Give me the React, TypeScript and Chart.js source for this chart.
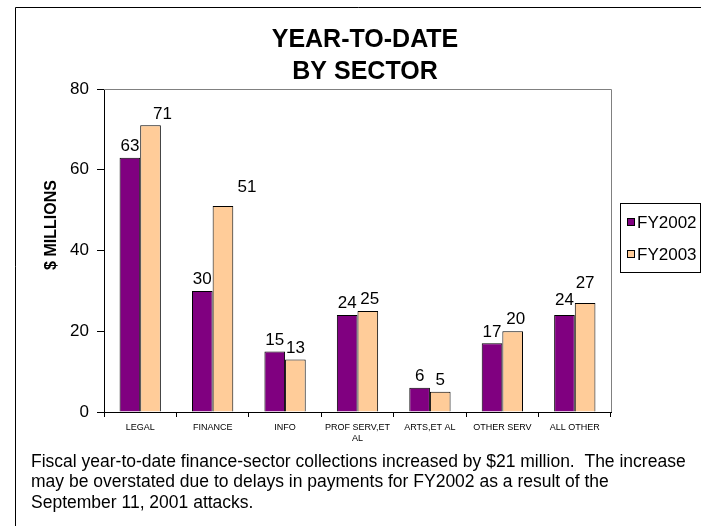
import React, { useEffect, useRef } from 'react';
import { Chart, registerables } from 'chart.js';

Chart.register(...registerables);

const categories = ['LEGAL', 'FINANCE', 'INFO', 'PROF SERV,ET AL', 'ARTS,ET AL', 'OTHER SERV', 'ALL OTHER'];
const fy2002 = [63, 30, 15, 24, 6, 17, 24];
const fy2003 = [71, 51, 13, 25, 5, 20, 27];
const seriesNames = ['FY2002', 'FY2003'];
const seriesColors = ['#800080', '#FFCC99'];
const yMin = 0;
const yMax = 80;
const yStep = 20;
const titleLines = ['YEAR-TO-DATE', 'BY SECTOR'];
const yAxisTitle = '$ MILLIONS';
const captionLines = [
  'Fiscal year-to-date finance-sector collections increased by $21 million.  The increase',
  'may be overstated due to delays in payments for FY2002 as a result of the',
  'September 11, 2001 attacks.',
];

// small manual label nudges (style only, in px) seen in the original: [dx, dy] per series per category
const labelNudges = [
  [[0, 0], [0, 0], [0, 0], [0, 0], [0, 0], [0, 0], [0, -3]],
  [[12, 0], [24, -7], [0, 0], [2, 0], [0, 0], [3, 0], [0, -8]],
];

const FONT = '"Liberation Sans", Arial, Helvetica, sans-serif';
const W = 701;
const H = 526;

const decorPlugin = {
  id: 'decor',
  afterDatasetsDraw(chart: any) {
    const ctx = chart.ctx;
    ctx.save();
    ctx.fillStyle = '#000';
    ctx.font = `17px ${FONT}`;
    ctx.textAlign = 'center';
    ctx.textBaseline = 'bottom';
    chart.data.datasets.forEach((ds: any, di: number) => {
      const meta = chart.getDatasetMeta(di);
      meta.data.forEach((bar: any, i: number) => {
        const n = labelNudges[di][i];
        ctx.fillText(String(ds.data[i]), bar.x + n[0], bar.y - 3 + n[1]);
      });
    });
    ctx.restore();
  },
  afterDraw(chart: any) {
    const ctx = chart.ctx;
    const ca = chart.chartArea;
    ctx.save();
    // plot area top/right border (gray)
    ctx.strokeStyle = '#808080';
    ctx.lineWidth = 1;
    ctx.beginPath();
    ctx.moveTo(ca.left, Math.round(ca.top) + 0.5);
    ctx.lineTo(Math.round(ca.right) + 0.5, Math.round(ca.top) + 0.5);
    ctx.lineTo(Math.round(ca.right) + 0.5, ca.bottom);
    ctx.stroke();

    // outer frame
    ctx.strokeStyle = '#000';
    ctx.beginPath();
    ctx.moveTo(15.5, H);
    ctx.lineTo(15.5, 7.5);
    ctx.lineTo(W, 7.5);
    ctx.stroke();

    // title
    ctx.fillStyle = '#000';
    ctx.font = `bold 25px ${FONT}`;
    ctx.textAlign = 'center';
    ctx.textBaseline = 'alphabetic';
    titleLines.forEach((t, i) => ctx.fillText(t, 365, 47 + i * 32));

    // y axis title
    ctx.save();
    ctx.translate(52, 225);
    ctx.rotate(-Math.PI / 2);
    ctx.font = `bold 16px ${FONT}`;
    ctx.textBaseline = 'middle';
    ctx.textAlign = 'center';
    ctx.fillText(yAxisTitle, 0, 0);
    ctx.restore();

    // legend
    const lx = 620, ly = 203, lw = 80, lh = 69;
    ctx.strokeStyle = '#000';
    ctx.strokeRect(lx + 0.5, ly + 0.5, lw, lh);
    ctx.font = `17px ${FONT}`;
    ctx.textAlign = 'left';
    ctx.textBaseline = 'middle';
    seriesNames.forEach((name, i) => {
      const cy = 222 + i * 32;
      ctx.fillStyle = seriesColors[i];
      ctx.fillRect(627, cy - 4, 8, 8);
      ctx.strokeStyle = '#000';
      ctx.strokeRect(627.5, cy - 3.5, 7, 7);
      ctx.fillStyle = '#000';
      ctx.fillText(name, 637, cy + 1);
    });

    // caption
    ctx.font = `17.5px ${FONT}`;
    ctx.textAlign = 'left';
    ctx.textBaseline = 'middle';
    captionLines.forEach((t, i) => ctx.fillText(t, 31, 462 + i * 20.5));
    ctx.restore();
  },
};

export default function App() {
  const ref = useRef<HTMLCanvasElement | null>(null);
  useEffect(() => {
    document.body.style.margin = '0';
    const canvas = ref.current;
    if (!canvas) return;
    const chart = new Chart(canvas, {
      type: 'bar',
      data: {
        labels: categories,
        datasets: [
          { label: seriesNames[0], data: fy2002, backgroundColor: seriesColors[0], borderColor: '#000', borderWidth: 1 },
          { label: seriesNames[1], data: fy2003, backgroundColor: seriesColors[1], borderColor: '#000', borderWidth: 1 },
        ],
      },
      options: {
        animation: false,
        responsive: false,
        maintainAspectRatio: false,
        devicePixelRatio: 1,
        layout: { padding: { left: 0, top: 89, right: 90, bottom: 84 } },
        datasets: { bar: { categoryPercentage: 0.57, barPercentage: 1 } },
        plugins: {
          legend: { display: false },
          title: { display: false },
          tooltip: { enabled: false },
        },
        scales: {
          x: {
            offset: true,
            grid: { offset: true, drawOnChartArea: false, drawTicks: true, tickLength: 5, color: '#000' },
            border: { color: '#000', width: 1 },
            ticks: {
              color: '#000',
              font: { family: FONT, size: 9 },
              maxRotation: 0,
              minRotation: 0,
              autoSkip: false,
              padding: 5,
              callback: (_v: any, i: number) => {
                const s = categories[i];
                if (s.length > 12) {
                  const k = s.lastIndexOf(' ');
                  return [s.slice(0, k), s.slice(k + 1)];
                }
                return s;
              },
            },
            afterFit: (s: any) => { s.height = 30; },
          },
          y: {
            min: yMin,
            max: yMax,
            grid: { drawOnChartArea: false, drawTicks: true, tickLength: 7, color: '#000' },
            border: { color: '#000', width: 1 },
            ticks: { stepSize: yStep, color: '#000', font: { family: FONT, size: 17 }, padding: 8 },
            afterFit: (s: any) => { s.width = 104; },
          },
        },
      },
      plugins: [decorPlugin],
    });
    return () => chart.destroy();
  }, []);
  return (
    <div style={{ position: 'absolute', left: 0, top: 0, width: W, height: H, background: '#fff' }}>
      <canvas ref={ref} width={W} height={H} style={{ display: 'block', width: W, height: H }} />
    </div>
  );
}
